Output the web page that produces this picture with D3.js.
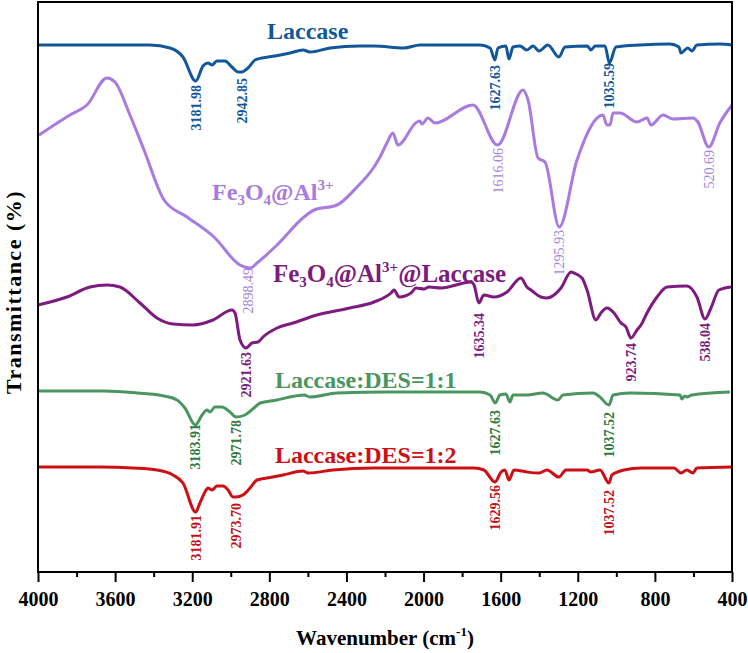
<!DOCTYPE html>
<html>
<head>
<meta charset="utf-8">
<style>
  body { margin: 0; background: #fff; }
  text { font-family: "Liberation Serif", "Times New Roman", serif; }
</style>
</head>
<body>
<script src="https://d3js.org/d3.v7.min.js"></script>
<script>
// wavenumber (cm-1), transmittance (a.u., curves stacked with offsets)
const laccase = [[4000,105.4],[3678,105.4],[3419,105.4],[3315,104.8],[3248,103],[3182,98.2],[3144,101.2],[3118,101.8],[3097,101.4],[3072,102.2],[3030,102.2],[2994,101],[2962,100],[2943,100],[2911,100.8],[2874,102.4],[2838,102.8],[2771,103.2],[2693,103.8],[2625,104.4],[2589,104],[2485,104.8],[2330,105.2],[2257,105.2],[2102,104.8],[2019,105.4],[1707,105.4],[1655,104.8],[1630,102.4],[1614,104.8],[1573,105.2],[1557,102.6],[1536,105],[1500,105.2],[1464,104.4],[1432,105.2],[1401,104.2],[1355,105.4],[1298,103],[1266,105],[1150,105.2],[1132,104.4],[1110,105.2],[1059,105.2],[1036,101.8],[1002,105],[877,105.4],[722,105.6],[675,105],[665,103.8],[629,104.8],[608,104.2],[582,105.4],[463,105.6],[400,105.4]]

const fe3o4Al = [[3995,87.4],[3834,91.4],[3746,93.4],[3642,98.8],[3601,98],[3523,91.4],[3450,84.4],[3346,74.4],[3227,71],[3087,67],[2952,61.4],[2898,60.8],[2864,61.8],[2760,65.4],[2620,71],[2568,72.4],[2449,73.4],[2345,77],[2257,81],[2226,83],[2190,85.8],[2159,87.8],[2133,85.4],[2034,90],[2019,90.2],[2008,89.6],[1977,90.8],[1941,89.8],[1744,93.4],[1616,85.4],[1484,96.4],[1458,94.4],[1406,82.8],[1370,82],[1296,69],[1204,82.4],[1069,91.4],[1049,89.4],[1033,89.4],[1017,91.8],[981,91.8],[893,90],[841,90.8],[820,89.4],[758,91.4],[706,90.6],[603,90.8],[577,90],[521,85],[463,89.8],[400,93.4]]

const fe3o4AlLac = [[4000,53.4],[3850,55],[3730,57],[3642,57.4],[3575,57],[3471,53.8],[3383,50.8],[3300,49.6],[3196,49.4],[3092,50.4],[2994,52.4],[2978,51.8],[2952,46.4],[2921,44.8],[2890,45.8],[2859,46],[2833,47],[2760,48.8],[2677,49.8],[2553,51.4],[2382,52.8],[2257,54],[2169,55.8],[2153,56.4],[2127,55],[2065,55.8],[2039,56.8],[1998,56.6],[1972,57],[1910,56.8],[1754,58],[1738,57.4],[1713,53.8],[1687,55.4],[1635,55],[1567,56],[1495,58.8],[1464,57],[1443,56.4],[1391,55],[1360,54.8],[1287,56.8],[1235,60],[1220,59.8],[1178,58.8],[1152,56.4],[1106,50.4],[1080,51.8],[1049,52.8],[1012,51.8],[976,49.8],[950,49],[924,46.8],[893,48.4],[872,49.4],[841,51.8],[789,55],[737,57],[634,57.2],[582,55],[540,50.6],[509,52.8],[468,56.4],[405,57]]

const des11 = [[4000,36.2],[3658,36.2],[3486,35.8],[3346,35.2],[3279,34.4],[3238,32.8],[3184,29.4],[3149,31.4],[3123,32.4],[3108,32],[3082,33],[3046,33],[3004,32],[2972,31],[2926,31.4],[2880,32.8],[2848,33.8],[2760,34.4],[2693,35],[2620,35.4],[2589,35],[2449,35.8],[2190,36],[1707,36],[1655,35.4],[1628,33.8],[1604,35.4],[1573,35.6],[1552,34],[1536,35.4],[1464,35.4],[1381,35.8],[1303,34.4],[1277,35.4],[1121,35.8],[1085,35],[1038,33.4],[1017,35.4],[929,35.8],[670,35.4],[660,34.6],[645,35.2],[634,35],[608,35.4],[411,36]]

const des12 = [[4000,21],[3678,21],[3507,20.8],[3383,20.4],[3300,19.4],[3248,17.8],[3182,12],[3160,13.8],[3134,16],[3118,16.8],[3097,16.4],[3072,17.2],[3040,17.2],[3014,16.4],[2989,15],[2974,15],[2937,15.4],[2900,16.8],[2864,18.4],[2812,18.8],[2729,19.4],[2625,20.2],[2599,19.8],[2470,20.4],[2262,20.8],[1738,20.8],[1687,20.4],[1630,18],[1598,20],[1578,20.4],[1557,18.4],[1531,20.4],[1464,20],[1401,19.8],[1360,20.4],[1298,19],[1261,20.4],[1152,20.4],[1132,20],[1085,20.4],[1038,17.8],[1023,19.4],[960,20.4],[872,20.8],[701,20.8],[665,19.8],[634,20.4],[603,19.8],[582,20.8],[400,21]]

// peak annotations: text, wavenumber where drawn, top of label (a.u.)
const lacPeaks = [["3181.98",3182,97.4],["2942.85",2943,98.8],["1627.63",1630,101.4],["1035.59",1036,101.8]]
const alPeaks = [["2898.49",2912,60.8],["1616.06",1616,84.8],["1295.93",1296,68.4],["520.69",521,84.4]]
const alLacPeaks = [["2921.63",2921,44],["1635.34",1713,51.8],["923.74",924,45.8],["538.04",540,49.8]]
const des11Peaks = [["3183.91",3184,29.6],["2971.78",2972,30.4],["1627.63",1628,32.4],["1037.52",1038,32]]
const des12Peaks = [["3181.91",3182,11.4],["2973.70",2974,13.8],["1629.56",1630,17.4],["1037.52",1038,16.4]]

const majorTicks = [4000,3600,3200,2800,2400,2000,1600,1200,800,400]
const minorTicks = [3800,3400,3000,2600,2200,1800,1400,1000,600]

const w = 748
const h = 653
const mLeft = 38, mRight = 732, mTop = 2, mBottom = 572

const xScale = d3.scaleLinear().domain([4000, 400]).range([mLeft, mRight])
const yScale = d3.scaleLinear().domain([0, 114]).range([mBottom, mTop])

const svg = d3.select('body').append('svg')
    .attr('width', w)
    .attr('height', h)

const line = d3.line()
    .x(d => xScale(d[0]))
    .y(d => yScale(d[1]))
    .curve(d3.curveMonotoneX)

const series = [
    {data: laccase, color: '#13579b', peaks: lacPeaks, labColor: '#13579b', bold: true},
    {data: fe3o4Al, color: '#a77be0', peaks: alPeaks, labColor: '#a583dd', bold: false},
    {data: fe3o4AlLac, color: '#7d1b7e', peaks: alLacPeaks, labColor: '#7d1b7e', bold: true},
    {data: des11, color: '#4b9560', peaks: des11Peaks, labColor: '#2f7a3c', bold: true},
    {data: des12, color: '#cb1116', peaks: des12Peaks, labColor: '#c4121a', bold: true}
]

series.forEach(s => {
    svg.append('path')
        .datum(s.data)
        .attr('d', line)
        .attr('fill', 'none')
        .attr('stroke', s.color)
        .attr('stroke-width', 3)
        .attr('stroke-linejoin', 'round')

    svg.selectAll(null)
        .data(s.peaks)
        .enter()
        .append('text')
        .attr('transform', d => 'translate(' + (xScale(d[1]) + 5) + ',' + yScale(d[2]) + ') rotate(-90)')
        .attr('text-anchor', 'end')
        .attr('font-size', 14)
        .attr('font-weight', s.bold ? 'bold' : 'normal')
        .attr('fill', s.labColor)
        .text(d => d[0])
})

// curve names
const addName = (wnPos, val, color, size, parts) => {
    const t = svg.append('text')
        .attr('x', xScale(wnPos))
        .attr('y', yScale(val))
        .attr('font-size', size)
        .attr('font-weight', 'bold')
        .attr('fill', color)
    parts.forEach(p => {
        const ts = t.append('tspan').text(p[0])
        if (p[1] === 'sub') ts.attr('font-size', 15).attr('dy', 5)
        else if (p[1] === 'sup') ts.attr('font-size', 15).attr('dy', -10)
        else if (p[1] === 'back') ts.attr('dy', p[2])
    })
}
addName(2812, 106.6, '#13579b', 24, [['Laccase']])
addName(3097, 74.4, '#a77be0', 24, [['Fe'], ['3', 'sub'], ['O', 'back', -5], ['4', 'sub'], ['@Al', 'back', -5], ['3+', 'sup']])
addName(2781, 58, '#7d1b7e', 25, [['Fe'], ['3', 'sub'], ['O', 'back', -5], ['4', 'sub'], ['@Al', 'back', -5], ['3+', 'sup'], ['@Laccase', 'back', 10]])
addName(2771, 36.8, '#4b9560', 24, [['Laccase:DES=1:1']])
addName(2771, 21.8, '#cb1116', 24, [['Laccase:DES=1:2']])

// frame
svg.append('rect')
    .attr('x', mLeft)
    .attr('y', mTop)
    .attr('width', mRight - mLeft)
    .attr('height', mBottom - mTop)
    .attr('fill', 'none')
    .attr('stroke', '#000')
    .attr('stroke-width', 2)

const xAxis = svg.append('g')
    .attr('transform', 'translate(0,' + mBottom + ')')
    .call(d3.axisBottom(xScale).tickValues(majorTicks).tickSize(10).tickPadding(10).tickFormat(d3.format('d')))
xAxis.select('.domain').remove()
xAxis.selectAll('line').attr('stroke-width', 2)
xAxis.selectAll('text')
    .attr('font-family', '"Liberation Serif", serif')
    .attr('font-size', 20)
    .attr('font-weight', 'bold')
    .attr('fill', '#000')

const xMinor = svg.append('g')
    .attr('transform', 'translate(0,' + mBottom + ')')
    .call(d3.axisBottom(xScale).tickValues(minorTicks).tickSize(5).tickFormat(''))
xMinor.select('.domain').remove()
xMinor.selectAll('line').attr('stroke-width', 2)

// axis titles
const xt = svg.append('text')
    .attr('x', (mLeft + mRight) / 2)
    .attr('y', 645)
    .attr('text-anchor', 'middle')
    .attr('font-size', 21)
    .attr('font-weight', 'bold')
xt.append('tspan').text('Wavenumber (cm')
xt.append('tspan').text('-1').attr('font-size', 13).attr('dy', -9)
xt.append('tspan').text(')').attr('dy', 9)

svg.append('text')
    .attr('transform', 'translate(21,292) rotate(-90)')
    .attr('text-anchor', 'middle')
    .attr('font-size', 22)
    .attr('font-weight', 'bold')
    .attr('letter-spacing', 1.5)
    .text('Transmittance (%)')
</script>
</body>
</html>
